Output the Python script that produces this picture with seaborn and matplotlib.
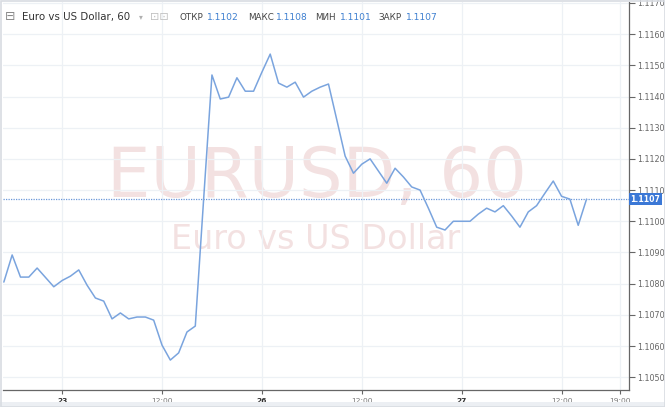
import matplotlib
matplotlib.use("Agg")
import matplotlib.pyplot as plt
from matplotlib.patches import Rectangle
import seaborn as sns
import pandas as pd

# ---- data (hourly closes, hour index relative to 23 00:00, trading time) ----
hours = list(range(-7, 64))
prices = [
    1.10805, 1.10892, 1.10821, 1.10821, 1.10850, 1.10820, 1.10790,
    1.10810, 1.10824, 1.10844, 1.10795, 1.10754, 1.10744, 1.10687,
    1.10706, 1.10687, 1.10693, 1.10693, 1.10683, 1.10603, 1.10555,
    1.10578, 1.10645, 1.10664, 1.11070, 1.11469, 1.11392, 1.11398,
    1.11460, 1.11417, 1.11417, 1.11478, 1.11536, 1.11443, 1.11430,
    1.11446, 1.11398, 1.11417, 1.11430, 1.11440, 1.11325, 1.11209,
    1.11154, 1.11183, 1.11200, 1.11161, 1.11122, 1.11170, 1.11142,
    1.11110, 1.11100, 1.11042, 1.10981, 1.10972, 1.11000, 1.11000,
    1.11000, 1.11023, 1.11042, 1.11030, 1.11050, 1.11017, 1.10981,
    1.11030, 1.11050, 1.11090, 1.11129, 1.11080, 1.11071, 1.10987,
    1.11071,
]
xtick_pos = [0, 12, 24, 36, 48, 60, 67]
xtick_labels = ["23", "12:00", "26", "12:00", "27", "12:00", "19:00"]
ytick_vals = [1.1050, 1.1060, 1.1070, 1.1080, 1.1090, 1.1100, 1.1110,
              1.1120, 1.1130, 1.1140, 1.1150, 1.1160, 1.1170]
last_price = 1.1107
header_title = "Euro vs US Dollar, 60"
ohlc_names = ["ОТКР", "МАКС", "МИН", "ЗАКР"]
ohlc_values = ["1.1102", "1.1108", "1.1101", "1.1107"]
watermark_big = "EURUSD, 60"
watermark_small = "Euro vs US Dollar"

df = pd.DataFrame({"hour": hours, "price": prices})

sns.set_theme(style="white")
plt.rcParams["font.family"] = ["DejaVu Sans"]

W, H = 665, 407
fig = plt.figure(figsize=(W / 100, H / 100), dpi=100)
fig.patch.set_facecolor("white")

ax_l, ax_r, ax_t, ax_b = 3, 629, 2, 390  # pixels
ax = fig.add_axes([ax_l / W, 1 - ax_b / H, (ax_r - ax_l) / W, (ax_b - ax_t) / H])
ax.set_facecolor("white")

# watermark (behind line)
ax.text(0.5016, 0.497, watermark_big, transform=ax.transAxes, ha="center",
        va="baseline", fontsize=49.5, color="#f3e1e1", zorder=0.3)
ax.text(0.50, 0.363, watermark_small, transform=ax.transAxes, ha="center",
        va="baseline", fontsize=24, color="#f3e1e1", zorder=0.3)

sns.lineplot(data=df, x="hour", y="price", ax=ax, color="#7aa4de",
             linewidth=1.1, zorder=3)

ax.axhline(last_price, color="#6a98da", linewidth=0.9,
           linestyle=(0, (1, 1)), zorder=2.5)

ax.set_xlim(-7.1, 68.1)
ax.set_ylim(1.10459, 1.11703)
ax.set_xticks(xtick_pos)
ax.set_xticklabels(xtick_labels)
ax.set_yticks(ytick_vals)
ax.set_yticklabels([f"{v:.4f}" for v in ytick_vals])
ax.yaxis.tick_right()
ax.set_xlabel("")
ax.set_ylabel("")

ax.grid(True, color="#edf1f5", linewidth=0.9, zorder=0)
ax.set_axisbelow(True)

for s in ["left", "top"]:
    ax.spines[s].set_visible(False)
for s in ["right", "bottom"]:
    ax.spines[s].set_color("#666666")
    ax.spines[s].set_linewidth(0.9)

ax.tick_params(axis="y", which="both", right=True, length=4, width=0.8,
               color="#666666", labelsize=5.8, labelcolor="#666666", pad=2)
ax.tick_params(axis="x", which="both", bottom=True, length=3, width=0.8,
               color="#666666", labelsize=5.4, labelcolor="#777777", pad=3)
for lbl in ax.get_xticklabels():
    if ":" not in lbl.get_text():
        lbl.set_color("#333333")
        lbl.set_fontweight("bold")

# current price marker on the right axis
yfrac = (last_price - 1.10459) / (1.11703 - 1.10459)
y_px = ax_b - yfrac * (ax_b - ax_t)
fig.patches.append(Rectangle((629 / W, 1 - (y_px + 6) / H), 33 / W, 12 / H,
                             transform=fig.transFigure, facecolor="#3b78d6",
                             edgecolor="none", zorder=5))
fig.text(645.5 / W, 1 - y_px / H, f"{last_price:.4f}", ha="center",
         va="center", fontsize=5.6, color="white", fontweight="bold", zorder=6)

# header
hy = 1 - 17 / H
fig.text(5 / W, hy, "⊟", ha="left", va="center", fontsize=9, color="#8a8a8a")
fig.text(22 / W, hy, header_title, ha="left", va="center", fontsize=7.4,
         color="#333333")
fig.text(139 / W, hy, "▾", ha="left", va="center", fontsize=5.5, color="#b0b0b0")
fig.text(150 / W, hy, "⊡⊡", ha="left", va="center", fontsize=8, color="#c0c0c0")
name_x = [180, 248, 315, 378]
val_x = [207, 276, 340, 406]
for nm, vl, nx, vx in zip(ohlc_names, ohlc_values, name_x, val_x):
    fig.text(nx / W, hy, nm, ha="left", va="center", fontsize=6.3,
             color="#444444")
    fig.text(vx / W, hy, vl, ha="left", va="center", fontsize=6.6,
             color="#3d7fd0")

# pane border and bottom strip
fig.patches.append(Rectangle((0, 0), 1, 5 / H, transform=fig.transFigure,
                             facecolor="#eceff3", edgecolor="none", zorder=0))
fig.patches.append(Rectangle((0.5 / W, 0.5 / H), (W - 1) / W, (H - 1) / H,
                             transform=fig.transFigure, fill=False,
                             edgecolor="#d8dce2", linewidth=1.2, zorder=10))

fig.savefig("out.png", dpi=100)
